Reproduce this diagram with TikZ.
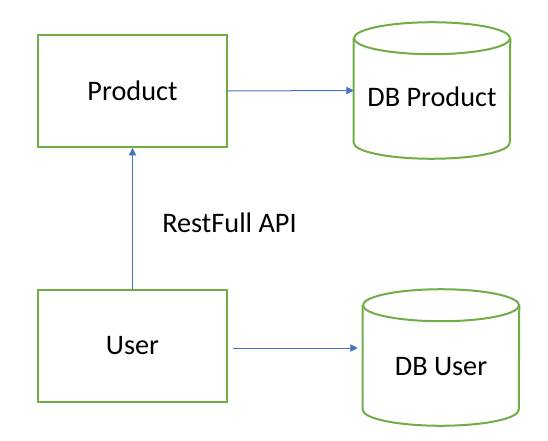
\documentclass[tikz,border=0pt]{standalone}
\usepackage{fontspec}
\setmainfont{Carlito}
\usetikzlibrary{calc,arrows.meta}
\definecolor{boxgreen}{HTML}{70AD47}
\definecolor{linkblue}{HTML}{4472C4}

\begin{document}
\begin{tikzpicture}[x=0.75pt,y=-0.75pt,>={Triangle[length=5.5pt,width=5.5pt]},
  font=\fontsize{21.2}{25}\selectfont,
  service/.style={draw=boxgreen,line width=1.5pt,minimum width=141.75pt,minimum height=84pt,inner sep=0pt},
  db/.style={minimum width=117pt,minimum height=102pt,inner sep=0pt},
  dbline/.style={draw=boxgreen,line width=1.5pt},
  link/.style={->,linkblue,line width=0.75pt}]
  \useasboundingbox (0,0) rectangle (548,441);
  % services on the left
  \node[service] (product) at (132.5,91) {Product};
  \node[service] (user) at (132.5,346) {User};
  % databases on the right
  \node[db] (dbproduct) at (432,90.5) {};
  \node[anchor=base] (dbproductlabel) at (432,107) {DB Product};
  \node[db] (dbuser) at (441,357.5) {};
  \node[anchor=base] (dbuserlabel) at (441,375) {DB User};
  % cylinder outlines round the db nodes
  \foreach \n in {dbproduct,dbuser}{
    \draw[dbline] ([yshift=-12pt]\n.north west) -- ([yshift=12pt]\n.south west)
      arc[start angle=180,end angle=360,x radius=58.5pt,y radius=12pt]
      -- ([yshift=-12pt]\n.north east);
    \draw[dbline] ([yshift=-12pt]\n.north) ellipse[x radius=58.5pt,y radius=12pt];
  }
  % connectors
  \draw[link] (product.east) -- (dbproduct.west);
  \draw[link] (user.north) -- (product.south);
  \draw[link] ($(user.east)+(5,2)$) -- ($(dbuser.west |- user.east)+(-5,2)$);
  \node[anchor=base] (api) at (229.5,233) {RestFull API};
\end{tikzpicture}
\end{document}
